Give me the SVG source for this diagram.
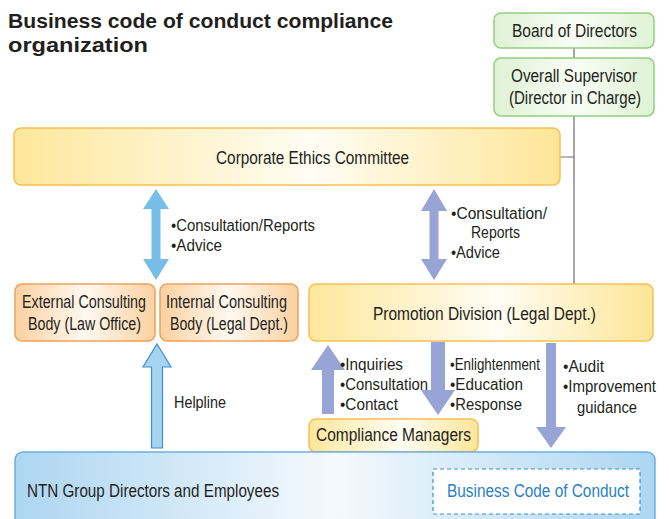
<svg xmlns="http://www.w3.org/2000/svg" width="669" height="519" viewBox="0 0 669 519">
<defs>
<linearGradient id="gy" x1="0" y1="0" x2="1" y2="0">
<stop offset="0" stop-color="#fee79c"/><stop offset="0.55" stop-color="#fffdf4"/><stop offset="1" stop-color="#fee597"/>
</linearGradient>
<linearGradient id="go" x1="0" y1="0" x2="1" y2="0">
<stop offset="0" stop-color="#fbd1a0"/><stop offset="0.5" stop-color="#fff8f0"/><stop offset="1" stop-color="#fbd1a0"/>
</linearGradient>
<linearGradient id="gg" x1="0" y1="0" x2="1" y2="0">
<stop offset="0" stop-color="#dff2d5"/><stop offset="0.5" stop-color="#f8fdf5"/><stop offset="1" stop-color="#dff2d5"/>
</linearGradient>
<linearGradient id="gb" x1="0" y1="0" x2="1" y2="0">
<stop offset="0" stop-color="#acd6f1"/><stop offset="0.5" stop-color="#f4f9fd"/><stop offset="1" stop-color="#acd6f1"/>
</linearGradient>
<style>
text{font-family:"Liberation Sans",Arial,sans-serif;fill:#231f20}
.t{font-weight:bold;font-size:20px}
.n{font-size:17.5px}
.l{font-size:16px}
.ye{fill:url(#gy);stroke:#f7bf52;stroke-width:1.5}
.or{fill:url(#go);stroke:#f0a15a;stroke-width:1.5}
.gr{fill:url(#gg);stroke:#90d07e;stroke-width:1.5}
.bl{fill:url(#gb);stroke:#6cb0e2;stroke-width:1.5}
.ln{stroke:#6d6e71;stroke-width:1.2;fill:none}
.la{fill:#98a4d6}
.sb{fill:#78bde8}
</style>
</defs>
<text class="t" x="8" y="28" textLength="385" lengthAdjust="spacingAndGlyphs">Business code of conduct compliance</text>
<text class="t" x="8" y="52" textLength="140" lengthAdjust="spacingAndGlyphs">organization</text>

<g id="connectors">
<path class="ln" d="M574 48V58M574 116V284M560 157H574"/>
<path id="a1" class="sb" d="M156 189L169 209H160.5V259H169L156 280L143 259H151.5V209H143Z"/>
<path id="a2" class="la" d="M434 189L447 211H438.5V259H447L434 280L421 259H429.5V211H421Z"/>
<path id="helpline" d="M157 344L171 367H162.5V448H151.5V367H143Z" fill="#a6d4f0" stroke="#3a8fd0" stroke-width="1.2"/>
<path id="a3" class="la" d="M328 345L345 370H334V414H322V370H311Z"/>
<path id="a4" class="la" d="M431 342H445V390H455L438 415L421 390H431Z"/>
<path id="a5" class="la" d="M546 343H556V427H566L551 448L536 427H546Z"/>
</g>

<g id="board"><rect class="gr" x="494" y="13" width="160" height="35" rx="7"/><text class="n" x="512" y="37" textLength="125" lengthAdjust="spacingAndGlyphs">Board of Directors</text></g>
<g id="supervisor"><rect class="gr" x="494" y="58" width="160" height="58" rx="7"/><text class="n" x="511" y="82" textLength="126" lengthAdjust="spacingAndGlyphs">Overall Supervisor</text><text class="n" x="509" y="104" textLength="132" lengthAdjust="spacingAndGlyphs">(Director in Charge)</text></g>
<g id="ethics"><rect class="ye" x="14" y="128" width="546" height="57" rx="7"/><text class="n" x="216" y="164" textLength="193" lengthAdjust="spacingAndGlyphs">Corporate Ethics Committee</text></g>
<g id="external"><rect class="or" x="15" y="284" width="140" height="57" rx="7"/><text class="n" x="22" y="308" textLength="124" lengthAdjust="spacingAndGlyphs">External Consulting</text><text class="n" x="28" y="330" textLength="113" lengthAdjust="spacingAndGlyphs">Body (Law Office)</text></g>
<g id="internal"><rect class="or" x="160" y="284" width="138" height="57" rx="7"/><text class="n" x="166" y="308" textLength="121" lengthAdjust="spacingAndGlyphs">Internal Consulting</text><text class="n" x="170" y="330" textLength="118" lengthAdjust="spacingAndGlyphs">Body (Legal Dept.)</text></g>
<g id="promotion"><rect class="ye" x="309" y="284" width="344" height="57" rx="7"/><text class="n" x="373" y="320" textLength="223" lengthAdjust="spacingAndGlyphs">Promotion Division (Legal Dept.)</text></g>
<g id="managers"><rect class="ye" x="309" y="419" width="169" height="33" rx="7"/><text class="n" x="316" y="441" textLength="155" lengthAdjust="spacingAndGlyphs">Compliance Managers</text></g>
<g id="employees"><rect class="bl" x="15" y="452" width="640" height="80" rx="8"/><text class="n" x="27" y="497" textLength="252" lengthAdjust="spacingAndGlyphs">NTN Group Directors and Employees</text>
<g id="code"><rect x="433" y="469" width="207" height="45" fill="#fff" stroke="#3a8fd0" stroke-width="1.2" stroke-dasharray="4 3"/><text class="n" x="447" y="497" textLength="182" lengthAdjust="spacingAndGlyphs" style="fill:#2a7fc8">Business Code of Conduct</text></g></g>

<g id="labels">
<text class="l" x="171" y="231" textLength="144" lengthAdjust="spacingAndGlyphs">•Consultation/Reports</text>
<text class="l" x="171" y="251" textLength="51" lengthAdjust="spacingAndGlyphs">•Advice</text>
<text class="l" x="451" y="219" textLength="96" lengthAdjust="spacingAndGlyphs">•Consultation/</text>
<text class="l" x="471" y="238" textLength="49" lengthAdjust="spacingAndGlyphs">Reports</text>
<text class="l" x="451" y="258" textLength="49" lengthAdjust="spacingAndGlyphs">•Advice</text>
<text class="l" x="174" y="408" textLength="52" lengthAdjust="spacingAndGlyphs">Helpline</text>
<text class="l" x="340" y="370" textLength="63" lengthAdjust="spacingAndGlyphs">•Inquiries</text>
<text class="l" x="340" y="390" textLength="88" lengthAdjust="spacingAndGlyphs">•Consultation</text>
<text class="l" x="340" y="410" textLength="58" lengthAdjust="spacingAndGlyphs">•Contact</text>
<text class="l" x="450" y="370" textLength="90" lengthAdjust="spacingAndGlyphs">•Enlightenment</text>
<text class="l" x="450" y="390" textLength="73" lengthAdjust="spacingAndGlyphs">•Education</text>
<text class="l" x="450" y="410" textLength="72" lengthAdjust="spacingAndGlyphs">•Response</text>
<text class="l" x="563" y="372" textLength="41" lengthAdjust="spacingAndGlyphs">•Audit</text>
<text class="l" x="563" y="392" textLength="93" lengthAdjust="spacingAndGlyphs">•Improvement</text>
<text class="l" x="577" y="413" textLength="60" lengthAdjust="spacingAndGlyphs">guidance</text>
</g>
</svg>
